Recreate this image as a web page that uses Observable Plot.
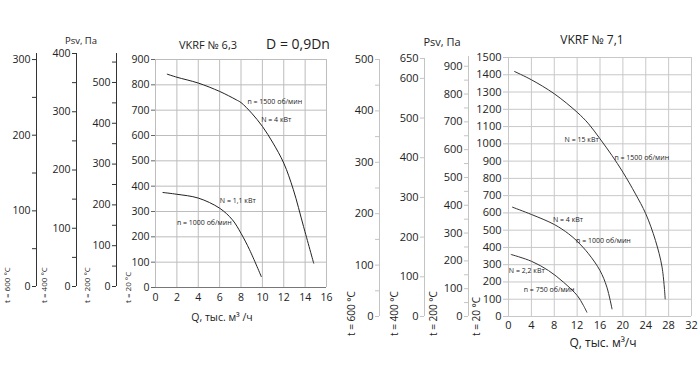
<!DOCTYPE html>
<html><head><meta charset="utf-8">
<script src="https://cdn.jsdelivr.net/npm/d3@7"></script>
<script src="https://cdn.jsdelivr.net/npm/@observablehq/plot@0.6"></script>
<style>
body{margin:0;background:#fff;}
#root{position:relative;width:700px;height:382px;overflow:hidden;font-family:"Open Sans",sans-serif;color:#222;}
#root svg{position:absolute;overflow:visible;}
.lbl{position:absolute;white-space:nowrap;line-height:1;}
.c{transform:translate(-50%,-50%);}
.rot{transform-origin:0 0;transform:rotate(-90deg);}
</style></head><body><div id="root"></div>
<script>
// ---- data: VKRF № 6,3 ----
const q63_1500 = [1.1, 2, 4, 6, 7.55, 8, 9, 10, 11, 12, 12.9, 13.85, 14.8];
const p63_1500 = [842, 830, 807, 774, 741, 730, 688, 636, 570, 491, 386, 241, 96];
const q63_1000 = [0.7, 2, 4, 6, 7.2, 8, 8.8, 9.9];
const p63_1000 = [375, 368, 353, 313, 267, 214, 149, 43];
const lab63 = ["n = 1500 об/мин", "N = 4 кВт", "N = 1,1 кВт", "n = 1000 об/мин"];
const lab63q = [11.16, 11.3, 7.7, 4.56];
const lab63p = [735, 662, 343, 255];
// ---- data: VKRF № 7,1 ----
const q71_1500 = [1.05, 4, 8, 12, 14, 16, 18.1, 20, 22.2, 24, 25.7, 26.85, 27.4];
const p71_1500 = [1419, 1371, 1290, 1183, 1116, 1029, 932, 836, 710, 595, 440, 286, 102];
const q71_1000 = [0.7, 4, 8, 10.5, 12, 14, 16, 17.2, 18.1];
const p71_1000 = [633, 591, 533, 479, 436, 363, 266, 170, 44];
const q71_750 = [0.47, 4, 7, 9.6, 12, 13.1, 13.7];
const p71_750 = [359, 320, 266, 199, 122, 64, 25];
const lab71 = ["N = 15 кВт", "n = 1500 об/мин", "N = 4 кВт", "n = 1000 об/мин", "N = 2,2 кВт", "n = 750 об/мин"];
const lab71q = [12.8, 23.3, 10.4, 16.6, 3.2, 7.1];
const lab71p = [1024, 922, 560, 440, 266, 155];
// ---- axes ----
const temps = ["t = 600 °C", "t = 400 °C", "t = 200 °C", "t = 20 °C"];
const auxLeftMax = [308, 400, 571];
const auxLeftLabeled = [[0,100,200,300],[0,100,200,300,400],[0,100,200,300,400,500]];
const auxLeftMinor = [[50,150,250],[50,150,250,350],[50,150,250,350,450,550]];
const auxRightMax = [500, 650, 935];
const auxRightLabeled = [[0,100,200,300,400,500],[0,100,200,300,400,500,600,650],[0,100,200,300,400,500,600,700,800,900]];
const auxRightMinor = [[50,150,250,350,450],[],[50,150,250,350,450,550,650,750,850]];
const x63Ticks = [0,2,4,6,8,10,12,14,16];
const y63Ticks = [0,100,200,300,400,500,600,700,800,900];
const x71Ticks = [0,4,8,12,16,20,24,28,32];
const y71Ticks = [0,100,200,300,400,500,600,700,800,900,1000,1100,1200,1300,1400,1500];

const root = document.getElementById("root");
const fmt = d => String(d);
function place(svg, left, top){ svg.style.left = left+"px"; svg.style.top = top+"px"; root.append(svg); }
function label(text, x, y, size, cls, extra){
  const d = document.createElement("div");
  d.className = "lbl " + (cls||"");
  d.textContent = text;
  d.style.left = x+"px"; d.style.top = y+"px"; d.style.fontSize = size+"px";
  if (extra) Object.assign(d.style, extra);
  root.append(d);
}
const FONT = "Open Sans";

function aux(lineX, lineTop, lineBottom, max, labeled, minor, lineColor, tickColor, fs){
  const top = 30, ml = 40, width = ml + 2;
  const svg = Plot.plot({
    width, height: lineBottom - top + 12,
    marginLeft: ml, marginRight: 1, marginTop: lineTop - top, marginBottom: 12,
    style: {fontFamily: FONT, fontSize: fs+"px", background: "transparent", color: "#222"},
    x: {domain: [0, 1], axis: null},
    y: {domain: [0, max], axis: null},
    marks: [
      Plot.ruleX([0], {stroke: lineColor, strokeWidth: 1}),
      Plot.axisY(labeled, {anchor: "left", tickSize: 4, tickPadding: 2, stroke: tickColor, fill: "#222", tickFormat: fmt}),
      Plot.axisY(minor, {anchor: "left", tickSize: 4, tickFormat: () => "", stroke: tickColor})
    ]
  });
  place(svg, lineX - ml, top);
}

// left auxiliary axes
const leftX = [35.5, 76, 116];
leftX.forEach((x, i) => aux(x, 53, 286, auxLeftMax[i], auxLeftLabeled[i], auxLeftMinor[i], "#333", "#333", 10.5));
// right auxiliary axes
const rightX = [379, 424, 468];
const rightTop = [59, 58, 56];
rightX.forEach((x, i) => aux(x, rightTop[i], 316, auxRightMax[i], auxRightLabeled[i], auxRightMinor[i], "#c4c4c4", "#c4c4c4", 11));

// main chart 6,3
{
  const d1 = q63_1500.map((q, i) => ({q, p: p63_1500[i]}));
  const d2 = q63_1000.map((q, i) => ({q, p: p63_1000[i]}));
  const lb = lab63.map((t, i) => ({t, q: lab63q[i], p: lab63p[i]}));
  const svg = Plot.plot({
    width: 230, height: 310, marginLeft: 45, marginRight: 14, marginTop: 39, marginBottom: 43,
    style: {fontFamily: FONT, fontSize: "10.5px", background: "transparent", color: "#222"},
    x: {domain: [0, 16], axis: null},
    y: {domain: [0, 900], axis: null},
    marks: [
      Plot.gridX(x63Ticks, {stroke: "#bdbdbd", strokeOpacity: 1}),
      Plot.gridY(y63Ticks, {stroke: "#bdbdbd", strokeOpacity: 1}),
      Plot.ruleY([0], {stroke: "#777"}),
      Plot.axisX(x63Ticks, {anchor: "bottom", tickSize: 0, tickPadding: 6, label: null, tickFormat: fmt}),
      Plot.axisY(y63Ticks, {anchor: "left", tickSize: 4, tickPadding: 2, stroke: "#666", label: null, tickFormat: fmt}),
      Plot.line(d1, {x: "q", y: "p", curve: "catmull-rom", stroke: "#222", strokeWidth: 1}),
      Plot.line(d2, {x: "q", y: "p", curve: "catmull-rom", stroke: "#222", strokeWidth: 1}),
      Plot.text(lb, {x: "q", y: "p", text: "t", fontSize: 7, textAnchor: "middle", fill: "#222"})
    ]
  });
  place(svg, 110, 20);
}
// main chart 7,1
{
  const d1 = q71_1500.map((q, i) => ({q, p: p71_1500[i]}));
  const d2 = q71_1000.map((q, i) => ({q, p: p71_1000[i]}));
  const d3_ = q71_750.map((q, i) => ({q, p: p71_750[i]}));
  const lb = lab71.map((t, i) => ({t, q: lab71q[i], p: lab71p[i]}));
  const svg = Plot.plot({
    width: 230, height: 350, marginLeft: 38, marginRight: 9, marginTop: 37, marginBottom: 54,
    style: {fontFamily: FONT, fontSize: "11px", background: "transparent", color: "#222"},
    x: {domain: [0, 32], axis: null},
    y: {domain: [0, 1500], axis: null},
    marks: [
      Plot.gridX(x71Ticks, {stroke: "#c8c8c8", strokeOpacity: 1}),
      Plot.gridY(y71Ticks, {stroke: "#c8c8c8", strokeOpacity: 1}),
      Plot.axisX(x71Ticks, {anchor: "bottom", tickSize: 0, tickPadding: 5, label: null, tickFormat: fmt}),
      Plot.axisY(y71Ticks, {anchor: "left", tickSize: 5, tickPadding: 2, stroke: "#c4c4c4", label: null, tickFormat: fmt}),
      Plot.line(d1, {x: "q", y: "p", curve: "catmull-rom", stroke: "#333", strokeWidth: 1}),
      Plot.line(d2, {x: "q", y: "p", curve: "catmull-rom", stroke: "#333", strokeWidth: 1}),
      Plot.line(d3_, {x: "q", y: "p", curve: "catmull-rom", stroke: "#333", strokeWidth: 1}),
      Plot.text(lb, {x: "q", y: "p", text: "t", fontSize: 7, textAnchor: "middle", fill: "#222"})
    ]
  });
  place(svg, 470, 20);
}

// titles and axis labels
label("Psv, Па", 81, 41, 9.5, "c");
label("VKRF № 6,3", 208, 44, 11, "c");
label("D = 0,9Dn", 298, 44, 14, "c");
label("Q, тыс. м³ /ч", 222, 317, 10.5, "c");
label("Psv, Па", 442, 41, 11, "c");
label("VKRF № 7,1", 592, 40, 12, "c");
label("Q, тыс. м³/ч", 603, 343, 12, "c");
// temperature labels (rotated)
[3, 40, 83, 124].forEach((x, i) => label(temps[i], x, 303, 8, "rot"));
[346, 389, 428, 471].forEach((x, i) => label(temps[i], x, 336, 10, "rot"));
</script></body></html>
